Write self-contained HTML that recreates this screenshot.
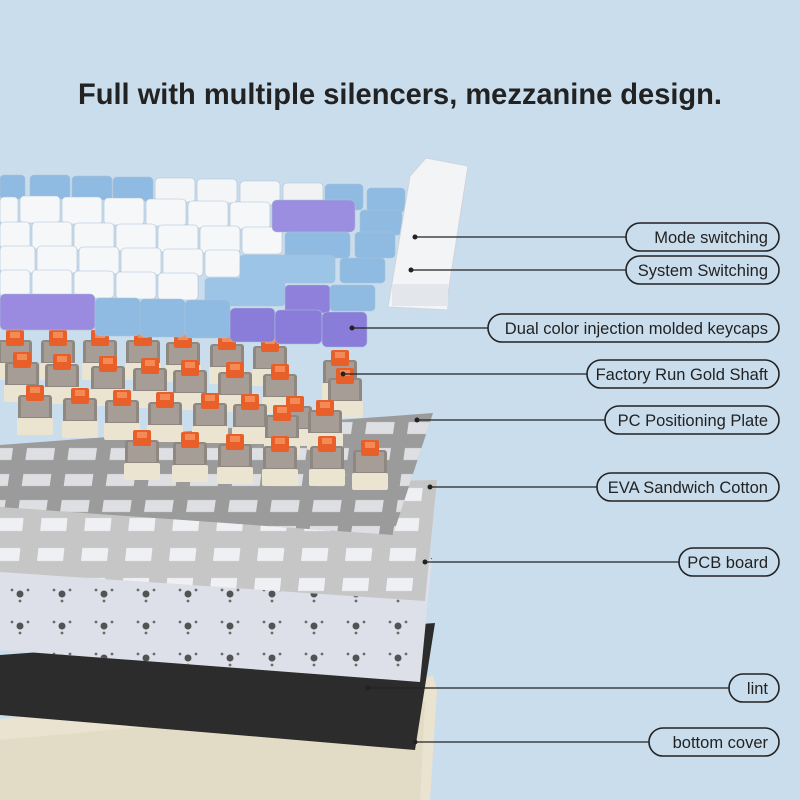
<!DOCTYPE html>
<html><head><meta charset="utf-8"><style>
html,body{margin:0;padding:0;background:#cadded;}
svg{display:block}
text{font-family:"Liberation Sans",sans-serif;fill:#222}
</style></head><body>
<svg width="800" height="800" viewBox="0 0 800 800" xmlns="http://www.w3.org/2000/svg">
<defs>
<pattern id="holesA" width="42" height="26" patternUnits="userSpaceOnUse" patternTransform="skewX(-8)">
<rect x="6" y="6" width="28" height="12" fill="#e4e6ea"/>
</pattern>
<pattern id="holesB" width="44" height="30" patternUnits="userSpaceOnUse" patternTransform="skewX(-6)">
<rect x="8" y="8" width="26" height="13" fill="#eef0f4"/>
</pattern>
<pattern id="dots" width="42" height="32" patternUnits="userSpaceOnUse">
<circle cx="20" cy="18" r="3.5" fill="#3a3a3a"/><circle cx="12" cy="14" r="1.4" fill="#555"/><circle cx="28" cy="14" r="1.4" fill="#555"/><circle cx="20" cy="25" r="1.4" fill="#555"/>
</pattern>
<g id="sw">
<rect x="3" y="10" width="34" height="26" rx="3" fill="#8f8880"/>
<rect x="6" y="12" width="28" height="20" fill="#b4aca5" opacity=".6"/>
<rect x="2" y="33" width="36" height="17" rx="2" fill="#ebe4d1"/>
<rect x="11" y="0" width="18" height="16" rx="2" fill="#e85f2a"/>
<rect x="15" y="2" width="10" height="6" fill="#f48a55"/>
</g>
</defs>

<text x="400" y="104" text-anchor="middle" font-size="30" font-weight="bold" textLength="644" lengthAdjust="spacingAndGlyphs">Full with multiple silencers, mezzanine design.</text>

<!-- bottom cover -->
<polygon points="0,719 433,676 437,690 430,800 0,800" fill="#e9e3cf"/>
<polygon points="0,740 425,702 420,800 0,800" fill="#ddd6bf" opacity=".6"/>
<!-- lint -->
<polygon points="0,655 435,623 415,750 0,715" fill="#2c2c2c"/>
<!-- PCB -->
<polygon points="0,556 432,558 420,682 0,650" fill="#dde0e8"/>
<polygon points="0,556 432,558 420,682 0,650" fill="url(#dots)" opacity=".85"/>
<!-- EVA plate -->
<polygon points="0,490 437,480 425,601 0,572" fill="#c6c6c6"/>
<polygon points="0,490 437,480 425,601 0,572" fill="url(#holesB)"/>
<!-- PC plate -->
<polygon points="0,445 433,413 393,535 0,507" fill="#9b9b9b"/>
<polygon points="0,445 433,413 393,535 0,507" fill="url(#holesA)" opacity=".9"/>

<!-- switches -->
<g>
<use href="#sw" x="-5" y="330"/><use href="#sw" x="38" y="330"/><use href="#sw" x="80" y="330"/><use href="#sw" x="123" y="330"/><use href="#sw" x="163" y="332"/><use href="#sw" x="207" y="334"/><use href="#sw" x="250" y="336"/>
<use href="#sw" x="2" y="352"/><use href="#sw" x="42" y="354"/><use href="#sw" x="88" y="356"/><use href="#sw" x="130" y="358"/><use href="#sw" x="170" y="360"/><use href="#sw" x="215" y="362"/><use href="#sw" x="260" y="364"/><use href="#sw" x="320" y="350"/>
<use href="#sw" x="15" y="385"/><use href="#sw" x="60" y="388"/><use href="#sw" x="102" y="390"/><use href="#sw" x="145" y="392"/><use href="#sw" x="190" y="393"/><use href="#sw" x="230" y="394"/><use href="#sw" x="275" y="396"/><use href="#sw" x="325" y="368"/>
<use href="#sw" x="262" y="405"/><use href="#sw" x="305" y="400"/>
<use href="#sw" x="122" y="430"/><use href="#sw" x="170" y="432"/><use href="#sw" x="215" y="434"/><use href="#sw" x="260" y="436"/><use href="#sw" x="307" y="436"/><use href="#sw" x="350" y="440"/>
</g>

<!-- keycaps -->
<g stroke="#a9bfd6" stroke-width="0.6">
<rect x="0" y="175" width="25" height="24" rx="4" fill="#8fbbe2"/>
<rect x="30" y="175" width="40" height="24" rx="4" fill="#8fbbe2"/>
<rect x="72" y="176" width="40" height="24" rx="4" fill="#8fbbe2"/>
<rect x="113" y="177" width="40" height="24" rx="4" fill="#8fbbe2"/>
<rect x="155" y="178" width="40" height="24" rx="4" fill="#f4f5f7"/>
<rect x="197" y="179" width="40" height="24" rx="4" fill="#f4f5f7"/>
<rect x="240" y="181" width="40" height="24" rx="4" fill="#f4f5f7"/>
<rect x="283" y="183" width="40" height="24" rx="4" fill="#f1f2f4"/>
<rect x="325" y="184" width="38" height="26" rx="4" fill="#8fbbe2"/>
<g fill="#f6f7f9">
<rect x="0" y="197" width="18" height="27" rx="4"/><rect x="20" y="196" width="40" height="27" rx="4"/><rect x="62" y="197" width="40" height="27" rx="4"/><rect x="104" y="198" width="40" height="27" rx="4"/><rect x="146" y="199" width="40" height="27" rx="4"/><rect x="188" y="201" width="40" height="27" rx="4"/><rect x="230" y="202" width="40" height="27" rx="4"/>
<rect x="0" y="222" width="30" height="27" rx="4"/><rect x="32" y="222" width="40" height="27" rx="4"/><rect x="74" y="223" width="40" height="27" rx="4"/><rect x="116" y="224" width="40" height="27" rx="4"/><rect x="158" y="225" width="40" height="27" rx="4"/><rect x="200" y="226" width="40" height="27" rx="4"/><rect x="242" y="227" width="40" height="27" rx="4"/>
<rect x="0" y="246" width="35" height="27" rx="4"/><rect x="37" y="246" width="40" height="27" rx="4"/><rect x="79" y="247" width="40" height="27" rx="4"/><rect x="121" y="248" width="40" height="27" rx="4"/><rect x="163" y="249" width="40" height="27" rx="4"/><rect x="205" y="250" width="35" height="27" rx="4"/>
<rect x="0" y="270" width="30" height="27" rx="4"/><rect x="32" y="270" width="40" height="27" rx="4"/><rect x="74" y="271" width="40" height="27" rx="4"/><rect x="116" y="272" width="40" height="27" rx="4"/><rect x="158" y="273" width="40" height="27" rx="4"/>
</g>
<rect x="272" y="200" width="83" height="32" rx="5" fill="#9b8ee0"/>
<rect x="367" y="188" width="38" height="24" rx="4" fill="#8fbbe2"/>
<rect x="360" y="210" width="42" height="25" rx="4" fill="#8fbbe2"/>
<rect x="285" y="232" width="65" height="26" rx="4" fill="#8fbbe2"/>
<rect x="355" y="232" width="40" height="26" rx="4" fill="#8fbbe2"/>
<rect x="240" y="255" width="95" height="28" rx="4" fill="#9cc4e6"/>
<rect x="340" y="258" width="45" height="25" rx="4" fill="#8fbbe2"/>
<rect x="205" y="278" width="80" height="28" rx="4" fill="#9cc4e6"/>
<rect x="285" y="285" width="45" height="28" rx="4" fill="#8f80dc"/>
<rect x="330" y="285" width="45" height="26" rx="4" fill="#8fbbe2"/>
<rect x="0" y="294" width="95" height="36" rx="5" fill="#9a8be0"/>
<rect x="95" y="298" width="45" height="38" rx="5" fill="#8fbbe2"/>
<rect x="140" y="299" width="45" height="38" rx="5" fill="#8fbbe2"/>
<rect x="185" y="300" width="45" height="38" rx="5" fill="#8fbbe2"/>
<rect x="230" y="308" width="45" height="34" rx="5" fill="#8a7cd9"/>
<rect x="275" y="310" width="47" height="34" rx="5" fill="#8a7cd9"/>
<rect x="322" y="312" width="45" height="35" rx="5" fill="#8a7cd9"/>
</g>
<!-- side module -->
<polygon points="426,158 468,166 447,300 448,310 388,307 410,176" fill="#f3f4f6" stroke="#d0d4da" stroke-width="1"/>
<rect x="392" y="284" width="56" height="22" fill="#e3e6ea"/>

<!-- connector lines -->
<g stroke="#222" stroke-width="1.3" fill="none">
<line x1="415" y1="237" x2="626" y2="237"/>
<line x1="411" y1="270" x2="626" y2="270"/>
<line x1="352" y1="328" x2="488" y2="328"/>
<line x1="343" y1="374" x2="587" y2="374"/>
<line x1="417" y1="420" x2="605" y2="420"/>
<line x1="430" y1="487" x2="597" y2="487"/>
<line x1="425" y1="562" x2="679" y2="562"/>
<line x1="368" y1="688" x2="729" y2="688"/>
<line x1="415" y1="742" x2="649" y2="742"/>
</g>
<g fill="#222">
<circle cx="415" cy="237" r="2.5"/><circle cx="411" cy="270" r="2.5"/><circle cx="352" cy="328" r="2.5"/><circle cx="343" cy="374" r="2.5"/><circle cx="417" cy="420" r="2.5"/><circle cx="430" cy="487" r="2.5"/><circle cx="425" cy="562" r="2.5"/><circle cx="368" cy="688" r="2.5"/><circle cx="415" cy="742" r="2.5"/>
</g>
<!-- pills -->
<g fill="none" stroke="#222" stroke-width="1.6">
<rect x="626" y="223" width="153" height="28" rx="14"/>
<rect x="626" y="256" width="153" height="28" rx="14"/>
<rect x="488" y="314" width="291" height="28" rx="14"/>
<rect x="587" y="360" width="192" height="28" rx="14"/>
<rect x="605" y="406" width="174" height="28" rx="14"/>
<rect x="597" y="473" width="182" height="28" rx="14"/>
<rect x="679" y="548" width="100" height="28" rx="14"/>
<rect x="729" y="674" width="50" height="28" rx="14"/>
<rect x="649" y="728" width="130" height="28" rx="14"/>
</g>
<g font-size="16.5" text-anchor="end">
<text x="768" y="243">Mode switching</text>
<text x="768" y="276">System Switching</text>
<text x="768" y="334">Dual color injection molded keycaps</text>
<text x="768" y="380">Factory Run Gold Shaft</text>
<text x="768" y="426">PC Positioning Plate</text>
<text x="768" y="493">EVA Sandwich Cotton</text>
<text x="768" y="568">PCB board</text>
<text x="768" y="694">lint</text>
<text x="768" y="748">bottom cover</text>
</g>
</svg>
</body></html>
